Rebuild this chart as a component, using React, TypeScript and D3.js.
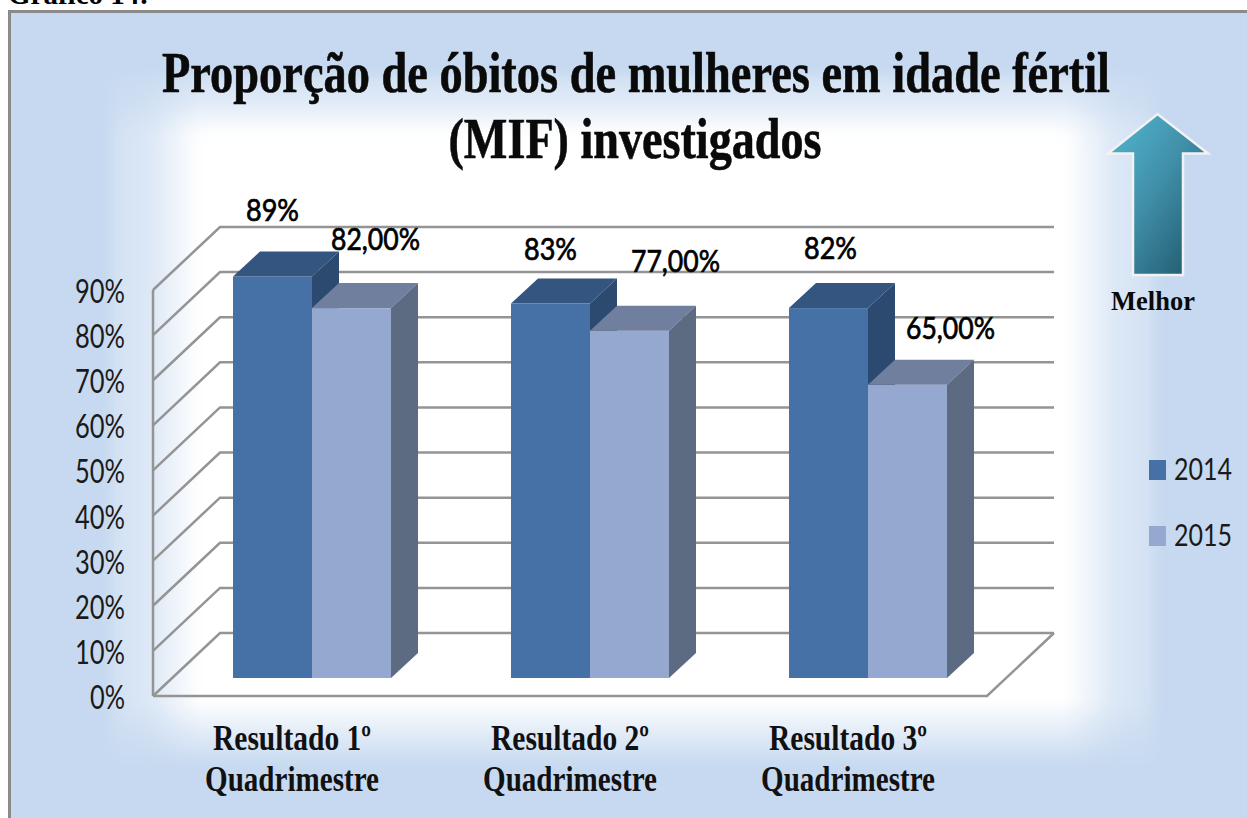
import * as d3 from "d3";

const categories = ["Resultado 1º|Quadrimestre", "Resultado 2º|Quadrimestre", "Resultado 3º|Quadrimestre"];
const seriesNames = ["2014", "2015"];
const values2014 = [89, 83, 82];
const values2015 = [82, 77, 65];
const labels2014 = ["89%", "83%", "82%"];
const labels2015 = ["82,00%", "77,00%", "65,00%"];
const yTicks = [0, 10, 20, 30, 40, 50, 60, 70, 80, 90];

const width = 1247;
const height = 818;
const blue = "#C6D9F0";
const serifFont = "'Liberation Serif', serif";
const sansFont = "Lato, sans-serif";

const frontColors = ["#4571A6", "#95A9D0"];
const topColors = ["#34557F", "#6F7F9D"];
const sideColors = ["#2C4A70", "#5D6B82"];

// floor corners of the 3d box
const floorX = 153;
const floorY = 696;
const depthX = 67;
const depthY = -63;
// bars sit in the middle of the floor depth
const barInsetX = 20;
const barInsetY = -18;
const barDepthX = 27;
const barDepthY = -25;

// data labels were hand placed in the original, so each has its own nudge
const nudge2014 = [[0, -56], [0, -44], [2, -49]];
const nudge2015 = [[24, -58], [46, -59], [43, -46]];

const x = d3.scaleBand().domain(categories).range([floorX, floorX + 834]).paddingInner(0);
const xSeries = d3.scaleBand().domain(seriesNames).range([60, 218]);
const h = d3.scaleLinear().domain([0, 90]).range([0, 406]);

const pts = (p: [number, number][]) => p.map((d) => d.join(",")).join(" ");

function Bar({ cat, series, value, i }: { cat: string; series: string; value: number; i: number }) {
  const x0 = x(cat)! + xSeries(series)! + barInsetX;
  const x1 = x0 + xSeries.bandwidth();
  const y0 = floorY + barInsetY;
  const y1 = y0 - h(value);
  return (
    <g>
      <rect x={x0} y={y1} width={x1 - x0} height={y0 - y1} fill={frontColors[i]} />
      <polygon
        points={pts([[x0, y1], [x0 + barDepthX, y1 + barDepthY], [x1 + barDepthX, y1 + barDepthY], [x1, y1]])}
        fill={topColors[i]}
      />
      <polygon
        points={pts([[x1, y0], [x1, y1], [x1 + barDepthX, y1 + barDepthY], [x1 + barDepthX, y0 + barDepthY]])}
        fill={sideColors[i]}
      />
    </g>
  );
}

export default function App() {
  const wall = "#949494";
  return (
    <svg
      width={width}
      height={height}
      viewBox={`0 0 ${width} ${height}`}
      style={{ position: "absolute", left: 0, top: 0, background: "#fff" }}
    >
      <defs>
        <linearGradient id="fadeX" x1="0" x2="1" y1="0" y2="0">
          <stop offset="0" stopColor="#fff" stopOpacity="0" />
          <stop offset="0.01" stopColor="#fff" stopOpacity="0.22" />
          <stop offset="0.045" stopColor="#fff" stopOpacity="0.42" />
          <stop offset="0.07" stopColor="#fff" stopOpacity="0.75" />
          <stop offset="0.09" stopColor="#fff" stopOpacity="1" />
          <stop offset="0.91" stopColor="#fff" stopOpacity="1" />
          <stop offset="0.93" stopColor="#fff" stopOpacity="0.75" />
          <stop offset="0.955" stopColor="#fff" stopOpacity="0.42" />
          <stop offset="0.99" stopColor="#fff" stopOpacity="0.22" />
          <stop offset="1" stopColor="#fff" stopOpacity="0" />
        </linearGradient>
        <linearGradient id="fadeY" x1="0" x2="0" y1="0" y2="1">
          <stop offset="0" stopColor="#fff" stopOpacity="0" />
          <stop offset="0.015" stopColor="#fff" stopOpacity="0.25" />
          <stop offset="0.05" stopColor="#fff" stopOpacity="0.5" />
          <stop offset="0.075" stopColor="#fff" stopOpacity="0.8" />
          <stop offset="0.095" stopColor="#fff" stopOpacity="1" />
          <stop offset="0.905" stopColor="#fff" stopOpacity="1" />
          <stop offset="0.955" stopColor="#fff" stopOpacity="0.45" />
          <stop offset="1" stopColor="#fff" stopOpacity="0" />
        </linearGradient>
        <mask id="fadeMask" maskUnits="userSpaceOnUse" x="0" y="0" width={width} height={height}>
          <rect x={105} y={70} width={1055} height={697} fill="url(#fadeY)" />
        </mask>
        <filter id="soften" filterUnits="userSpaceOnUse" x="0" y="0" width={width} height={height}>
          <feGaussianBlur stdDeviation={5} />
        </filter>
        <linearGradient id="arrowFill" x1="0.1" y1="0.1" x2="0.9" y2="0.95">
          <stop offset="0" stopColor="#4FB0CA" />
          <stop offset="0.45" stopColor="#408EA8" />
          <stop offset="1" stopColor="#215A6D" />
        </linearGradient>
        <clipPath id="panelClip">
          <rect x={11} y={13} width={1240} height={810} />
        </clipPath>
      </defs>

      {/* cut-off caption above the panel */}
      <text x={8} y={4} fontFamily={serifFont} fontWeight="bold" fontSize={29}>
        Gráfico 14:
      </text>

      {/* panel */}
      <rect x={9.5} y={11.5} width={1240} height={810} fill={blue} stroke="#8A8A8A" strokeWidth={3} />
      <g clipPath="url(#panelClip)">
        <g filter="url(#soften)">
          <g mask="url(#fadeMask)">
            <rect x={105} y={70} width={1055} height={697} fill="url(#fadeX)" />
          </g>
        </g>
      </g>

      {/* title */}
      <g fontFamily={serifFont} fontWeight="bold" fontSize={58} textAnchor="middle" fill="#0a0a0a" stroke="#0a0a0a" strokeWidth={0.6}>
        <text x={636} y={92} textLength={948} lengthAdjust="spacingAndGlyphs">
          Proporção de óbitos de mulheres em idade fértil
        </text>
        <text x={635} y={158} textLength={373} lengthAdjust="spacingAndGlyphs">
          (MIF) investigados
        </text>
      </g>

      {/* box grid */}
      <g fill="none" stroke={wall} strokeWidth={2.5}>
        {yTicks.map((t) => (
          <polyline
            key={t}
            points={pts([
              [floorX, floorY - h(t)],
              [floorX + depthX, floorY + depthY - h(t)],
              [floorX + 834 + depthX, floorY + depthY - h(t)],
            ])}
          />
        ))}
        <line x1={floorX} x2={floorX} y1={floorY} y2={floorY - h(90)} />
        <polyline
          points={pts([
            [floorX, floorY],
            [floorX + 834, floorY],
            [floorX + 834 + depthX, floorY + depthY],
          ])}
        />
      </g>

      {/* y labels */}
      <g fontFamily={sansFont} fontSize={33} textAnchor="end" fill="#1a1a1a">
        {yTicks.map((t) => (
          <text key={t} x={125} y={floorY - h(t) + 13} textLength={t === 0 ? 35 : 50} lengthAdjust="spacingAndGlyphs">
            {`${t}%`}
          </text>
        ))}
      </g>

      {/* bars */}
      {categories.map((c, k) => (
        <g key={c}>
          <Bar cat={c} series="2014" value={values2014[k]} i={0} />
          <Bar cat={c} series="2015" value={values2015[k]} i={1} />
        </g>
      ))}

      {/* value labels */}
      <g fontFamily={sansFont} fontSize={30} textAnchor="middle" fill="#000" stroke="#000" strokeWidth={0.7}>
        {categories.map((c, k) => {
          const a = x(c)! + xSeries("2014")! + barInsetX + xSeries.bandwidth() / 2;
          const b = x(c)! + xSeries("2015")! + barInsetX + xSeries.bandwidth() / 2;
          return (
            <g key={c}>
              <text
                x={a + nudge2014[k][0]}
                y={floorY + barInsetY - h(values2014[k]) + nudge2014[k][1]}
                textLength={53}
                lengthAdjust="spacingAndGlyphs"
              >
                {labels2014[k]}
              </text>
              <text
                x={b + nudge2015[k][0]}
                y={floorY + barInsetY - h(values2015[k]) + nudge2015[k][1]}
                textLength={89}
                lengthAdjust="spacingAndGlyphs"
              >
                {labels2015[k]}
              </text>
            </g>
          );
        })}
      </g>

      {/* category labels */}
      <g fontFamily={serifFont} fontWeight="bold" fontSize={35} textAnchor="middle" fill="#111">
        {categories.map((c) => {
          const [a, b] = c.split("|");
          const cx = x(c)! + x.bandwidth() / 2;
          return (
            <g key={c}>
              <text x={cx} y={750} textLength={158} lengthAdjust="spacingAndGlyphs">{a}</text>
              <text x={cx} y={791} textLength={174} lengthAdjust="spacingAndGlyphs">{b}</text>
            </g>
          );
        })}
      </g>

      {/* legend */}
      <g fontFamily={sansFont} fontSize={31} fill="#1a1a1a">
        {seriesNames.map((s, i) => (
          <g key={s} transform={`translate(0,${i * 66})`}>
            <rect x={1149} y={460} width={17} height={20} fill={frontColors[i]} />
            <text x={1174} y={480} textLength={58} lengthAdjust="spacingAndGlyphs">{s}</text>
          </g>
        ))}
      </g>

      {/* arrow */}
      <polygon
        points={pts([[1157.5, 114], [1208, 153.5], [1183, 153.5], [1183, 275], [1133, 275], [1133, 153.5], [1108, 153.5]])}
        fill="url(#arrowFill)"
        stroke="#F2F2F2"
        strokeWidth={2.5}
      />
      <text x={1153} y={310} textAnchor="middle" fontFamily={serifFont} fontWeight="bold" fontSize={26.5} fill="#0a0a0a">
        Melhor
      </text>
    </svg>
  );
}
